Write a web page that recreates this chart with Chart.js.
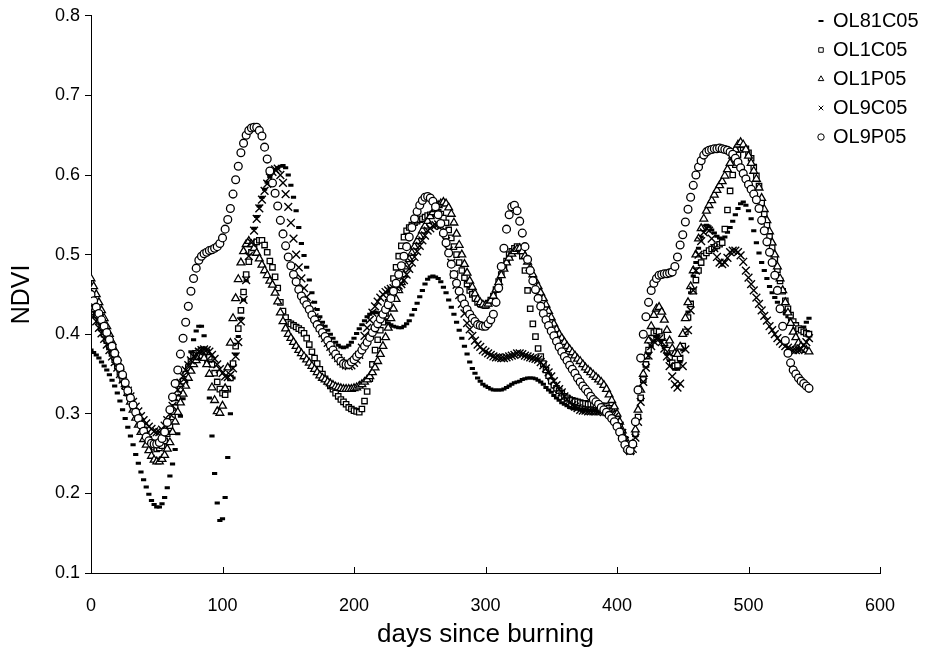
<!DOCTYPE html>
<html>
<head>
<meta charset="utf-8">
<script src="https://cdn.jsdelivr.net/npm/chart.js@4.4.1/dist/chart.umd.min.js"></script>
<style>
html, body { margin: 0; padding: 0; background: #fff; }
#wrap { width: 929px; height: 656px; }
</style>
</head>
<body>
<div id="wrap"><canvas id="myChart" width="929" height="656"></canvas></div>
<script>
// days since burning (sampled every 2 days)
const days = [0,2,4,6,8,10,12,14,16,18,20,22,24,26,28,
  30,32,34,36,38,40,42,44,46,48,50,52,54,56,58,
  60,62,64,66,68,70,72,74,76,78,80,82,84,86,88,
  90,92,94,96,98,100,102,104,106,108,110,112,114,116,118,
  120,122,124,126,128,130,132,134,136,138,140,142,144,146,148,
  150,152,154,156,158,160,162,164,166,168,170,172,174,176,178,
  180,182,184,186,188,190,192,194,196,198,200,202,204,206,208,
  210,212,214,216,218,220,222,224,226,228,230,232,234,236,238,
  240,242,244,246,248,250,252,254,256,258,260,262,264,266,268,
  270,272,274,276,278,280,282,284,286,288,290,292,294,296,298,
  300,302,304,306,308,310,312,314,316,318,320,322,324,326,328,
  330,332,334,336,338,340,342,344,346,348,350,352,354,356,358,
  360,362,364,366,368,370,372,374,376,378,380,382,384,386,388,
  390,392,394,396,398,400,402,404,406,408,410,412,414,416,418,
  420,422,424,426,428,430,432,434,436,438,440,442,444,446,448,
  450,452,454,456,458,460,462,464,466,468,470,472,474,476,478,
  480,482,484,486,488,490,492,494,496,498,500,502,504,506,508,
  510,512,514,516,518,520,522,524,526,528,530,532,534,536,538,
  540,542,544,546];

const ol81c05 = [.380,.377,.374,.370,.365,.360,.355,.349,.342,.335,.326,.316,.305,.294,.283,
  .272,.261,.249,.238,.227,.217,.208,.199,.191,.186,.183,.183,.187,.195,.207,
  .222,.237,.255,.275,.297,.319,.340,.360,.378,.393,.404,.410,.410,.398,.365,
  .320,.272,.225,.188,.166,.168,.195,.245,.300,.345,.375,.397,.420,.443,.467,
  .492,.515,.533,.548,.561,.572,.582,.591,.598,.603,.607,.609,.611,.612,.609,
  .600,.587,.572,.555,.534,.514,.499,.484,.468,.452,.440,.431,.422,.415,.410,
  .405,.400,.395,.390,.386,.384,.383,.384,.386,.390,.395,.401,.407,.412,.417,
  .422,.425,.427,.428,.427,.425,.421,.418,.414,.412,.410,.409,.408,.408,.410,
  .413,.417,.424,.431,.439,.447,.455,.463,.469,.472,.473,.472,.470,.466,.459,
  .452,.443,.434,.425,.415,.405,.395,.385,.375,.365,.357,.351,.345,.341,.337,
  .335,.333,.331,.330,.330,.330,.330,.331,.333,.335,.337,.339,.340,.341,.343,
  .344,.345,.345,.345,.344,.342,.340,.337,.333,.330,.327,.323,.320,.317,.314,
  .312,.310,.308,.307,.306,.306,.305,.305,.305,.304,.304,.304,.304,.303,.303,
  .303,.302,.300,.298,.294,.289,.283,.275,.265,.256,.251,.258,.272,.295,.318,
  .340,.360,.375,.385,.392,.397,.396,.391,.383,.375,.367,.361,.356,.356,.365,
  .380,.402,.428,.452,.473,.490,.508,.522,.531,.537,.535,.531,.527,.523,.521,
  .520,.522,.528,.534,.542,.550,.558,.564,.566,.562,.555,.545,.530,.515,.502,
  .490,.480,.470,.460,.452,.446,.440,.435,.430,.426,.422,.418,.414,.410,.406,
  .405,.409,.415,.420];

const ol1c05 = [.440,.432,.424,.416,.408,.400,.392,.384,.376,.368,.360,.352,.343,.334,.326,
  .318,.310,.302,.295,.288,.280,.274,.268,.262,.258,.256,.257,.260,.266,.275,
  .285,.296,.308,.320,.331,.341,.350,.358,.366,.372,.376,.378,.380,.380,.378,
  .371,.362,.351,.340,.331,.326,.324,.331,.345,.363,.385,.407,.430,.453,.475,
  .491,.503,.511,.516,.518,.518,.512,.503,.492,.484,.472,.458,.440,.429,.421,
  .415,.413,.411,.409,.407,.405,.401,.395,.387,.378,.370,.363,.356,.350,.344,
  .340,.335,.331,.326,.322,.318,.315,.312,.308,.306,.304,.303,.302,.306,.316,
  .328,.344,.362,.380,.393,.405,.415,.426,.440,.455,.470,.484,.498,.511,.522,
  .530,.534,.537,.540,.542,.544,.545,.547,.549,.550,.551,.552,.553,.551,.546,
  .540,.531,.521,.510,.500,.490,.480,.471,.463,.455,.450,.445,.440,.438,.437,
  .436,.439,.443,.448,.456,.466,.475,.484,.492,.500,.504,.508,.510,.508,.498,
  .480,.455,.432,.413,.397,.382,.372,.363,.355,.348,.341,.336,.332,.329,.326,
  .322,.320,.318,.317,.316,.315,.314,.313,.313,.312,.312,.312,.311,.311,.310,
  .310,.309,.307,.305,.300,.293,.285,.276,.268,.260,.256,.262,.275,.296,.320,
  .343,.362,.380,.395,.402,.404,.403,.397,.389,.380,.371,.364,.360,.361,.370,
  .385,.403,.421,.438,.454,.468,.480,.490,.498,.502,.505,.507,.509,.511,.513,
  .515,.532,.556,.580,.600,.613,.625,.632,.634,.633,.628,.621,.610,.599,.586,
  .565,.551,.537,.523,.509,.495,.481,.467,.454,.442,.432,.424,.416,.411,.407,
  .405,.403,.401,.400];

const ol1p05 = [.470,.460,.450,.440,.430,.420,.410,.400,.390,.380,.370,.359,.348,.337,.326,
  .315,.305,.295,.286,.277,.268,.261,.254,.247,.242,.240,.240,.243,.248,.256,
  .264,.277,.290,.302,.314,.325,.335,.345,.354,.362,.367,.371,.372,.370,.362,
  .350,.333,.317,.303,.301,.310,.332,.358,.389,.420,.445,.469,.490,.504,.513,
  .517,.513,.508,.502,.495,.487,.480,.474,.467,.462,.452,.441,.427,.416,.407,
  .400,.395,.390,.385,.380,.376,.372,.368,.364,.360,.356,.352,.348,.345,.343,
  .340,.338,.336,.334,.333,.332,.331,.331,.331,.331,.332,.333,.335,.337,.340,
  .343,.347,.352,.358,.366,.375,.385,.396,.408,.420,.432,.444,.455,.465,.475,
  .485,.494,.502,.510,.517,.523,.530,.536,.542,.548,.553,.557,.562,.564,.566,
  .564,.559,.551,.540,.526,.512,.500,.488,.477,.467,.459,.451,.444,.440,.437,
  .436,.438,.442,.448,.456,.465,.474,.482,.490,.496,.501,.504,.507,.508,.504,
  .498,.491,.483,.475,.467,.460,.452,.445,.437,.429,.421,.413,.406,.400,.395,
  .390,.385,.381,.377,.373,.369,.366,.362,.358,.355,.352,.349,.346,.343,.340,
  .336,.331,.324,.317,.309,.300,.290,.279,.269,.258,.253,.262,.280,.305,.330,
  .350,.372,.392,.410,.424,.432,.434,.428,.418,.405,.392,.382,.376,.375,.384,
  .400,.420,.440,.460,.480,.500,.520,.533,.545,.555,.562,.568,.575,.581,.587,
  .592,.599,.607,.615,.624,.632,.638,.641,.638,.632,.624,.615,.605,.595,.584,
  .571,.557,.543,.529,.515,.500,.485,.470,.455,.440,.427,.414,.403,.396,.389,
  .385,.382,.380,.378];

const ol9c05 = [.430,.423,.416,.408,.401,.394,.387,.380,.372,.365,.358,.350,.343,.336,.329,
  .322,.315,.309,.303,.297,.292,.288,.284,.281,.278,.277,.277,.280,.285,.292,
  .300,.310,.320,.330,.339,.347,.355,.361,.367,.372,.375,.378,.380,.381,.380,
  .378,.374,.369,.362,.356,.351,.347,.346,.349,.357,.372,.390,.416,.443,.468,
  .498,.515,.530,.545,.558,.569,.580,.589,.597,.604,.607,.608,.600,.590,.576,
  .560,.540,.520,.500,.484,.470,.458,.447,.437,.429,.421,.415,.408,.401,.395,
  .389,.384,.378,.374,.370,.366,.363,.361,.360,.361,.364,.368,.374,.383,.398,
  .408,.418,.427,.435,.441,.446,.450,.453,.455,.457,.458,.459,.461,.463,.468,
  .475,.482,.490,.497,.504,.511,.518,.524,.530,.533,.536,.537,.538,.536,.529,
  .517,.505,.490,.475,.462,.449,.438,.426,.414,.406,.398,.392,.387,.384,.380,
  .378,.376,.374,.372,.371,.371,.370,.370,.371,.372,.373,.374,.376,.376,.375,
  .373,.372,.371,.370,.369,.368,.365,.361,.357,.352,.347,.341,.336,.331,.327,
  .322,.318,.314,.311,.309,.307,.305,.304,.304,.303,.303,.303,.303,.303,.303,
  .302,.302,.301,.300,.296,.291,.285,.276,.266,.257,.253,.256,.270,.290,.315,
  .340,.358,.373,.385,.391,.394,.394,.390,.382,.372,.360,.347,.337,.333,.338,
  .360,.381,.405,.430,.455,.480,.500,.517,.528,.533,.530,.520,.508,.497,.490,
  .488,.490,.496,.503,.505,.505,.503,.499,.491,.480,.471,.463,.455,.446,.438,
  .430,.423,.417,.410,.405,.400,.395,.391,.388,.385,.383,.381,.380,.380,.380,
  .382,.386,.390,.395];

const ol9p05 = [.450,.442,.434,.426,.418,.410,.402,.393,.385,.376,.367,.358,.349,.339,.329,
  .320,.311,.302,.294,.286,.278,.271,.266,.263,.262,.262,.264,.269,.277,.289,
  .305,.321,.338,.355,.375,.395,.415,.435,.454,.470,.483,.493,.498,.501,.503,
  .505,.506,.508,.510,.514,.521,.532,.544,.558,.576,.594,.611,.628,.640,.650,
  .656,.659,.660,.660,.656,.649,.635,.620,.605,.590,.577,.561,.543,.526,.511,
  .497,.486,.475,.466,.456,.448,.442,.437,.431,.424,.418,.412,.407,.402,.397,
  .392,.386,.380,.375,.370,.366,.363,.362,.362,.365,.368,.372,.375,.380,.385,
  .390,.396,.402,.408,.413,.419,.425,.431,.437,.445,.454,.464,.475,.486,.498,
  .510,.522,.534,.545,.554,.562,.568,.572,.573,.571,.567,.560,.550,.539,.527,
  .515,.502,.488,.475,.464,.454,.445,.438,.431,.425,.420,.416,.412,.411,.410,
  .410,.413,.418,.425,.440,.458,.485,.508,.532,.550,.560,.562,.555,.542,.527,
  .510,.494,.480,.467,.456,.445,.435,.426,.418,.411,.404,.398,.391,.384,.378,
  .372,.367,.361,.356,.351,.345,.340,.335,.331,.327,.322,.318,.315,.312,.308,
  .305,.302,.298,.294,.290,.284,.277,.269,.261,.255,.254,.262,.290,.330,.370,
  .400,.422,.440,.455,.464,.470,.474,.475,.476,.476,.477,.478,.485,.497,.512,
  .525,.541,.557,.572,.587,.600,.610,.618,.625,.629,.631,.632,.633,.633,.634,
  .633,.632,.631,.629,.626,.621,.616,.609,.602,.595,.588,.582,.576,.569,.558,
  .543,.530,.516,.503,.490,.474,.455,.432,.410,.392,.376,.364,.355,.350,.345,
  .341,.338,.335,.332];

const seriesNames = ['OL81C05', 'OL1C05', 'OL1P05', 'OL9C05', 'OL9P05'];
const xTicks = [0, 100, 200, 300, 400, 500, 600];
const yTicks = [0.1, 0.2, 0.3, 0.4, 0.5, 0.6, 0.7, 0.8];

const FONT = "'Liberation Sans', Arial, sans-serif";

function pts(arr) {
    return days.map((d, i) => ({ x: d, y: arr[i] }));
}

function makeSet(name, arr, style, radius, bw, fill, order) {
    return {
        label: name,
        data: pts(arr),
        showLine: false,
        pointStyle: style,
        pointRadius: radius,
        pointBorderWidth: bw,
        pointBorderColor: '#000',
        pointBackgroundColor: fill,
        order: order
    };
}

// x ticks point up into the plot
const innerTicks = {
    id: 'innerTicks',
    afterDraw(chart) {
        const ctx = chart.ctx;
        const xs = chart.scales.x;
        const b = chart.chartArea.bottom;
        ctx.save();
        ctx.strokeStyle = '#000';
        ctx.lineWidth = 1;
        xTicks.forEach(v => {
            const px = Math.round(xs.getPixelForValue(v)) + 0.5;
            ctx.beginPath();
            ctx.moveTo(px, b);
            ctx.lineTo(px, b - 6);
            ctx.stroke();
        });
        ctx.restore();
    }
};

// legend sits in the top right corner, over the plot
const cornerLegend = {
    id: 'cornerLegend',
    afterDraw(chart) {
        const ctx = chart.ctx;
        ctx.save();
        chart.data.datasets.forEach((ds, i) => {
            const y = 21 + i * 29;
            const isDash = ds.pointStyle === 'line';
            ctx.strokeStyle = '#000';
            ctx.fillStyle = ds.pointBackgroundColor;
            ctx.lineWidth = isDash ? 2 : 1;
            Chart.helpers.drawPoint(ctx, {
                pointStyle: ds.pointStyle,
                radius: isDash ? 2.5 : 3.2,
                rotation: 0,
                borderWidth: isDash ? 2 : 1
            }, 821, y);
            ctx.fillStyle = '#000';
            ctx.font = '20px ' + FONT;
            ctx.textAlign = 'left';
            ctx.textBaseline = 'middle';
            ctx.fillText(ds.label, 833, y);
        });
        ctx.restore();
    }
};

const ctx = document.getElementById('myChart');
const chart = new Chart(ctx, {
    type: 'scatter',
    data: {
        datasets: [
            makeSet(seriesNames[0], ol81c05, 'line', 2.6, 3, '#000', 5),
            makeSet(seriesNames[1], ol1c05, 'rect', 3.8, 1.3, '#fff', 4),
            makeSet(seriesNames[2], ol1p05, 'triangle', 4.5, 1.3, '#fff', 3),
            makeSet(seriesNames[3], ol9c05, 'crossRot', 5.5, 1.4, '#000', 2),
            makeSet(seriesNames[4], ol9p05, 'circle', 3.9, 1.3, '#fff', 1)
        ]
    },
    options: {
        responsive: false,
        animation: false,
        events: [],
        devicePixelRatio: 1,
        layout: { padding: { left: 0, top: 15, right: 49, bottom: 0 } },
        scales: {
            x: {
                type: 'linear',
                min: 0,
                max: 600,
                afterBuildTicks: s => { s.ticks = xTicks.map(v => ({ value: v })); },
                afterFit: s => { s.height = 83; },
                grid: { display: false },
                border: { display: true, color: '#000', width: 1 },
                ticks: { color: '#000', padding: 14, font: { family: FONT, size: 18 } },
                title: {
                    display: true,
                    text: 'days since burning',
                    color: '#000',
                    font: { family: FONT, size: 26 },
                    padding: { top: 0, bottom: 6 }
                }
            },
            y: {
                type: 'linear',
                min: 0.1,
                max: 0.8,
                afterBuildTicks: s => { s.ticks = yTicks.map(v => ({ value: v })); },
                afterFit: s => { s.width = 91; },
                grid: { display: true, drawOnChartArea: false, drawTicks: true, tickLength: 6, color: '#000' },
                border: { display: true, color: '#000', width: 1 },
                ticks: {
                    color: '#000',
                    padding: 5,
                    font: { family: FONT, size: 18 },
                    callback: v => v.toFixed(1)
                },
                title: {
                    display: true,
                    text: 'NDVI',
                    color: '#000',
                    font: { family: FONT, size: 25 },
                    padding: { top: 7, bottom: 0 }
                }
            }
        },
        plugins: {
            legend: { display: false },
            tooltip: { enabled: false }
        }
    },
    plugins: [innerTicks, cornerLegend]
});
</script>
</body>
</html>
